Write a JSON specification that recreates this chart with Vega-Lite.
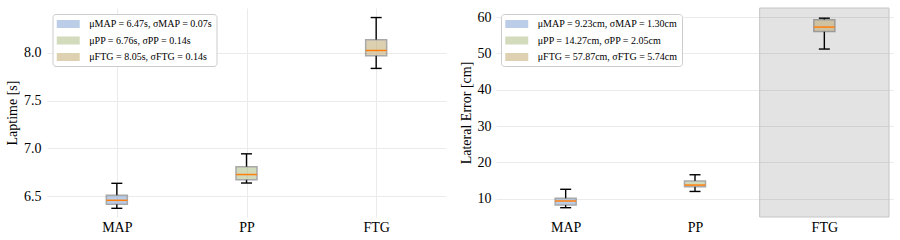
{
  "$schema": "https://vega.github.io/schema/vega-lite/v6.json",
  "background": "white",
  "padding": {"left": 5, "top": 7, "right": 0, "bottom": 0},
  "config": {
    "view": {"stroke": null},
    "font": "Liberation Serif",
    "axis": {
      "labelFont": "Liberation Serif", "labelFontSize": 14, "labelColor": "#000",
      "titleFont": "Liberation Serif", "titleFontSize": 14, "titleFontWeight": "normal", "titleColor": "#000",
      "domain": false, "ticks": false, "gridColor": "#ebebeb", "gridWidth": 1
    },
    "legend": {
      "orient": "none", "title": null,
      "symbolType": "M-2,-0.7H2V0.7H-2Z", "symbolSize": 132, "symbolStrokeWidth": 0, "symbolOffset": 5.75,
      "labelFont": "Liberation Serif", "labelFontSize": 10, "labelColor": "#000", "labelOffset": 15,
      "rowPadding": 5.5, "padding": 4, "fillColor": "#ffffff", "strokeColor": "#cccccc", "cornerRadius": 3
    }
  },
  "datasets": {
    "lap": [
      {"method": "MAP", "pos": 1, "lo": 6.371, "q1": 6.413, "med": 6.455, "q3": 6.507, "hi": 6.633, "label": "μMAP = 6.47s, σMAP = 0.07s"},
      {"method": "PP", "pos": 2, "lo": 6.636, "q1": 6.67, "med": 6.725, "q3": 6.806, "hi": 6.942, "label": "μPP = 6.76s, σPP = 0.14s"},
      {"method": "FTG", "pos": 3, "lo": 7.837, "q1": 7.97, "med": 8.025, "q3": 8.136, "hi": 8.37, "label": "μFTG = 8.05s, σFTG = 0.14s"}
    ],
    "lat": [
      {"method": "MAP", "pos": 1, "lo": 7.53, "q1": 8.27, "med": 9.37, "q3": 10.1, "hi": 12.6, "label": "μMAP = 9.23cm, σMAP = 1.30cm"},
      {"method": "PP", "pos": 2, "lo": 12.0, "q1": 13.3, "med": 13.76, "q3": 14.86, "hi": 16.6, "label": "μPP = 14.27cm, σPP = 2.05cm"},
      {"method": "FTG", "pos": 3, "lo": 51.2, "q1": 56.0, "med": 57.25, "q3": 59.3, "hi": 59.7, "label": "μFTG = 57.87cm, σFTG = 5.74cm"}
    ],
    "shade": [{"x0": 2.5, "x1": 3.5}]
  },
  "resolve": {"scale": {"color": "independent"}},
  "spacing": 13,
  "hconcat": [
    {
      "width": 399, "height": 209,
      "data": {"name": "lap"},
      "resolve": {"axis": {"x": "independent", "y": "independent"}},
      "layer": [
        {
          "mark": {"type": "rule", "color": "#000", "strokeWidth": 1.4},
          "encoding": {
            "x": {"field": "pos", "type": "quantitative", "scale": {"domain": [0.5, 3.5], "nice": false, "zero": false},
              "axis": {"values": [1, 2, 3], "labelExpr": "datum.value == 1 ? 'MAP' : datum.value == 2 ? 'PP' : 'FTG'", "title": null, "labelPadding": 3, "labelFont": "Liberation Serif", "labelFontSize": 14}},
            "y": {"field": "q3", "type": "quantitative", "scale": {"domain": [6.28, 8.47], "nice": false, "zero": false},
              "axis": {"values": [6.5, 7, 7.5, 8], "format": ".1f", "title": "Laptime [s]", "labelPadding": 6, "titlePadding": 4, "labelFont": "Liberation Serif", "labelFontSize": 14, "titleFont": "Liberation Serif"}},
            "y2": {"field": "hi"}
          }
        },
        {
          "mark": {"type": "rule", "color": "#000", "strokeWidth": 1.4},
          "encoding": {
            "x": {"field": "pos", "type": "quantitative", "axis": null},
            "y": {"field": "lo", "type": "quantitative", "axis": null},
            "y2": {"field": "q1"}
          }
        },
        {
          "mark": {"type": "bar", "size": 21, "opacity": 0.5, "stroke": "#555", "strokeWidth": 1.5},
          "encoding": {
            "x": {"field": "pos", "type": "quantitative", "axis": null},
            "y": {"field": "q1", "type": "quantitative", "axis": null},
            "y2": {"field": "q3"},
            "color": {"field": "label", "type": "nominal",
              "scale": {"domain": ["μMAP = 6.47s, σMAP = 0.07s", "μPP = 6.76s, σPP = 0.14s", "μFTG = 8.05s, σFTG = 0.14s"], "range": ["#799bd1", "#a7b77b", "#bba363"]},
              "legend": {"legendX": 5.5, "legendY": 6}}
          }
        },
        {
          "mark": {"type": "tick", "orient": "horizontal", "size": 21, "thickness": 1.5, "color": "#ff7f0e", "opacity": 1},
          "encoding": {
            "x": {"field": "pos", "type": "quantitative", "axis": null},
            "y": {"field": "med", "type": "quantitative", "axis": null}
          }
        },
        {
          "mark": {"type": "tick", "orient": "horizontal", "size": 11, "thickness": 1.4, "color": "#000", "opacity": 1},
          "encoding": {
            "x": {"field": "pos", "type": "quantitative",
              "axis": {"orient": "top", "values": [0.6, 0.8, 1.2, 1.4, 1.6, 1.8, 2.2, 2.4, 2.6, 2.8, 3.2, 3.4], "labels": false, "title": null, "gridDash": [3, 3], "gridColor": "#f0f0f0"}},
            "y": {"field": "hi", "type": "quantitative",
              "axis": {"orient": "right", "values": [6.75, 7.25, 7.75, 8.25], "labels": false, "title": null, "gridDash": [3, 3], "gridColor": "#f0f0f0"}}
          }
        },
        {
          "mark": {"type": "tick", "orient": "horizontal", "size": 11, "thickness": 1.4, "color": "#000", "opacity": 1},
          "encoding": {
            "x": {"field": "pos", "type": "quantitative", "axis": null},
            "y": {"field": "lo", "type": "quantitative", "axis": null}
          }
        }
      ]
    },
    {
      "width": 398, "height": 209,
      "resolve": {"axis": {"x": "independent", "y": "independent"}},
      "layer": [
        {
          "data": {"name": "shade"},
          "mark": {"type": "rect", "fill": "#000", "fillOpacity": 0.11, "stroke": "#c4c4c4", "strokeWidth": 1},
          "encoding": {
            "x": {"field": "x0", "type": "quantitative", "axis": null, "scale": {"domain": [0.5, 3.5], "nice": false, "zero": false}},
            "x2": {"field": "x1"},
            "y": {"value": 0},
            "y2": {"value": "height"}
          }
        },
        {
          "data": {"name": "lat"},
          "mark": {"type": "rule", "color": "#000", "strokeWidth": 1.4},
          "encoding": {
            "x": {"field": "pos", "type": "quantitative", "scale": {"domain": [0.5, 3.5], "nice": false, "zero": false},
              "axis": {"values": [1, 2, 3], "labelExpr": "datum.value == 1 ? 'MAP' : datum.value == 2 ? 'PP' : 'FTG'", "title": null, "labelPadding": 3, "labelFont": "Liberation Serif", "labelFontSize": 14}},
            "y": {"field": "q3", "type": "quantitative", "scale": {"domain": [4.97, 62.5], "nice": false, "zero": false},
              "axis": {"values": [10, 20, 30, 40, 50, 60], "format": "d", "title": "Lateral Error [cm]", "labelPadding": 5, "titlePadding": 4, "labelFont": "Liberation Serif", "labelFontSize": 14, "titleFont": "Liberation Serif"}},
            "y2": {"field": "hi"}
          }
        },
        {
          "data": {"name": "lat"},
          "mark": {"type": "rule", "color": "#000", "strokeWidth": 1.4},
          "encoding": {
            "x": {"field": "pos", "type": "quantitative", "axis": null},
            "y": {"field": "lo", "type": "quantitative", "axis": null},
            "y2": {"field": "q1"}
          }
        },
        {
          "data": {"name": "lat"},
          "mark": {"type": "bar", "size": 21, "opacity": 0.5, "stroke": "#555", "strokeWidth": 1.5},
          "encoding": {
            "x": {"field": "pos", "type": "quantitative", "axis": null},
            "y": {"field": "q1", "type": "quantitative", "axis": null},
            "y2": {"field": "q3"},
            "color": {"field": "label", "type": "nominal",
              "scale": {"domain": ["μMAP = 9.23cm, σMAP = 1.30cm", "μPP = 14.27cm, σPP = 2.05cm", "μFTG = 57.87cm, σFTG = 5.74cm"], "range": ["#799bd1", "#a7b77b", "#bba363"]},
              "legend": {"legendX": 5, "legendY": 6}}
          }
        },
        {
          "data": {"name": "lat"},
          "mark": {"type": "tick", "orient": "horizontal", "size": 21, "thickness": 1.5, "color": "#ff7f0e", "opacity": 1},
          "encoding": {
            "x": {"field": "pos", "type": "quantitative", "axis": null},
            "y": {"field": "med", "type": "quantitative", "axis": null}
          }
        },
        {
          "data": {"name": "lat"},
          "mark": {"type": "tick", "orient": "horizontal", "size": 11, "thickness": 1.4, "color": "#000", "opacity": 1},
          "encoding": {
            "x": {"field": "pos", "type": "quantitative",
              "axis": {"orient": "top", "values": [0.6, 0.8, 1.2, 1.4, 1.6, 1.8, 2.2, 2.4, 2.6, 2.8, 3.2, 3.4], "labels": false, "title": null, "gridDash": [3, 3], "gridColor": "#f0f0f0"}},
            "y": {"field": "hi", "type": "quantitative",
              "axis": {"orient": "right", "values": [15, 25, 35, 45, 55], "labels": false, "title": null, "gridDash": [3, 3], "gridColor": "#f0f0f0"}}
          }
        },
        {
          "data": {"name": "lat"},
          "mark": {"type": "tick", "orient": "horizontal", "size": 11, "thickness": 1.4, "color": "#000", "opacity": 1},
          "encoding": {
            "x": {"field": "pos", "type": "quantitative", "axis": null},
            "y": {"field": "lo", "type": "quantitative", "axis": null}
          }
        }
      ]
    }
  ]
}
